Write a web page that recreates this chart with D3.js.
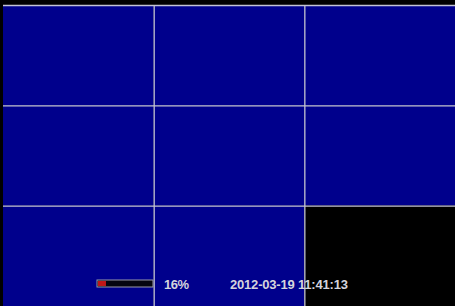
<!DOCTYPE html>
<html>
<head>
<meta charset="utf-8">
<script src="https://cdn.jsdelivr.net/npm/d3@7"></script>
<style>
  html, body { margin: 0; padding: 0; background: #000; }
  svg { display: block; }
</style>
</head>
<body>
<div id="chart"></div>
<script>
// size of the screen
var chart_width = 455;
var chart_height = 306;

// channel grid, 3 x 3
var columns = [0, 1, 2];
var rows = [0, 1, 2];
var channels = ['CH1', 'CH2', 'CH3', 'CH4', 'CH5', 'CH6', 'CH7', 'CH8', 'CH9'];
var signal = [0, 0, 0, 0, 0, 0, 0, 0, 1]; // 0 = no video (blue), 1 = black frame

// status bar
var progress = [16];
var timestamp = ['2012-03-19 11:41:13'];

var svg = d3.select('#chart')
    .append('svg')
    .attr('width', chart_width)
    .attr('height', chart_height);

svg.append('rect')
    .attr('width', chart_width)
    .attr('height', chart_height)
    .attr('fill', '#000');

var x = d3.scaleBand().domain(columns).range([3, 455]);
var y = d3.scaleBand().domain(rows).range([5, 306]);

var fill = d3.scaleOrdinal().domain([0, 1]).range(['#00008c', '#000000']);

var cells = svg.append('g').attr('id', 'cells');

cells.selectAll('rect')
    .data(channels)
    .enter()
    .append('rect')
    .attr('x', (d, i) => x(i % 3))
    .attr('y', (d, i) => y(Math.floor(i / 3)))
    .attr('width', x.bandwidth())
    .attr('height', y.bandwidth())
    .attr('fill', (d, i) => fill(signal[i]));

// grid lines
var grid = svg.append('g').attr('id', 'grid')
    .attr('stroke', '#c4c4d4')
    .attr('stroke-width', 1.3);

grid.selectAll('line.v')
    .data(columns.slice(1))
    .enter()
    .append('line')
    .attr('class', 'v')
    .attr('x1', d => x(d) + 0.5)
    .attr('x2', d => x(d) + 0.5)
    .attr('y1', 5)
    .attr('y2', chart_height);

grid.selectAll('line.h')
    .data(rows)
    .enter()
    .append('line')
    .attr('class', 'h')
    .attr('x1', 3)
    .attr('x2', chart_width)
    .attr('y1', d => y(d) + 0.5)
    .attr('y2', d => y(d) + 0.5);

// progress bar
var bar = d3.scaleLinear().domain([0, 100]).range([0, 56]);
var bar_g = svg.append('g').attr('transform', 'translate(97,280)');

bar_g.append('rect')
    .attr('width', bar(100))
    .attr('height', 7)
    .attr('fill', '#050510')
    .attr('stroke', '#9a9aa8')
    .attr('stroke-width', 1);

bar_g.selectAll('rect.fill')
    .data(progress)
    .enter()
    .append('rect')
    .attr('class', 'fill')
    .attr('x', 1)
    .attr('y', 1)
    .attr('width', d => bar(d) - 1)
    .attr('height', 5)
    .attr('fill', '#c01818');

svg.selectAll('text.pct')
    .data(progress)
    .enter()
    .append('text')
    .attr('class', 'pct')
    .attr('x', 164)
    .attr('y', 289)
    .attr('font-family', 'Liberation Sans, Arial, sans-serif')
    .attr('font-size', 13)
    .attr('font-weight', 'bold')
    .attr('fill', '#d4d4dc')
    .attr('textLength', 25)
    .text(d => d + '%');

svg.selectAll('text.time')
    .data(timestamp)
    .enter()
    .append('text')
    .attr('class', 'time')
    .attr('x', 230)
    .attr('y', 289)
    .attr('font-family', 'Liberation Sans, Arial, sans-serif')
    .attr('font-size', 13)
    .attr('font-weight', 'bold')
    .attr('fill', '#d4d4dc')
    .attr('textLength', 118)
    .text(d => d);
</script>
</body>
</html>
